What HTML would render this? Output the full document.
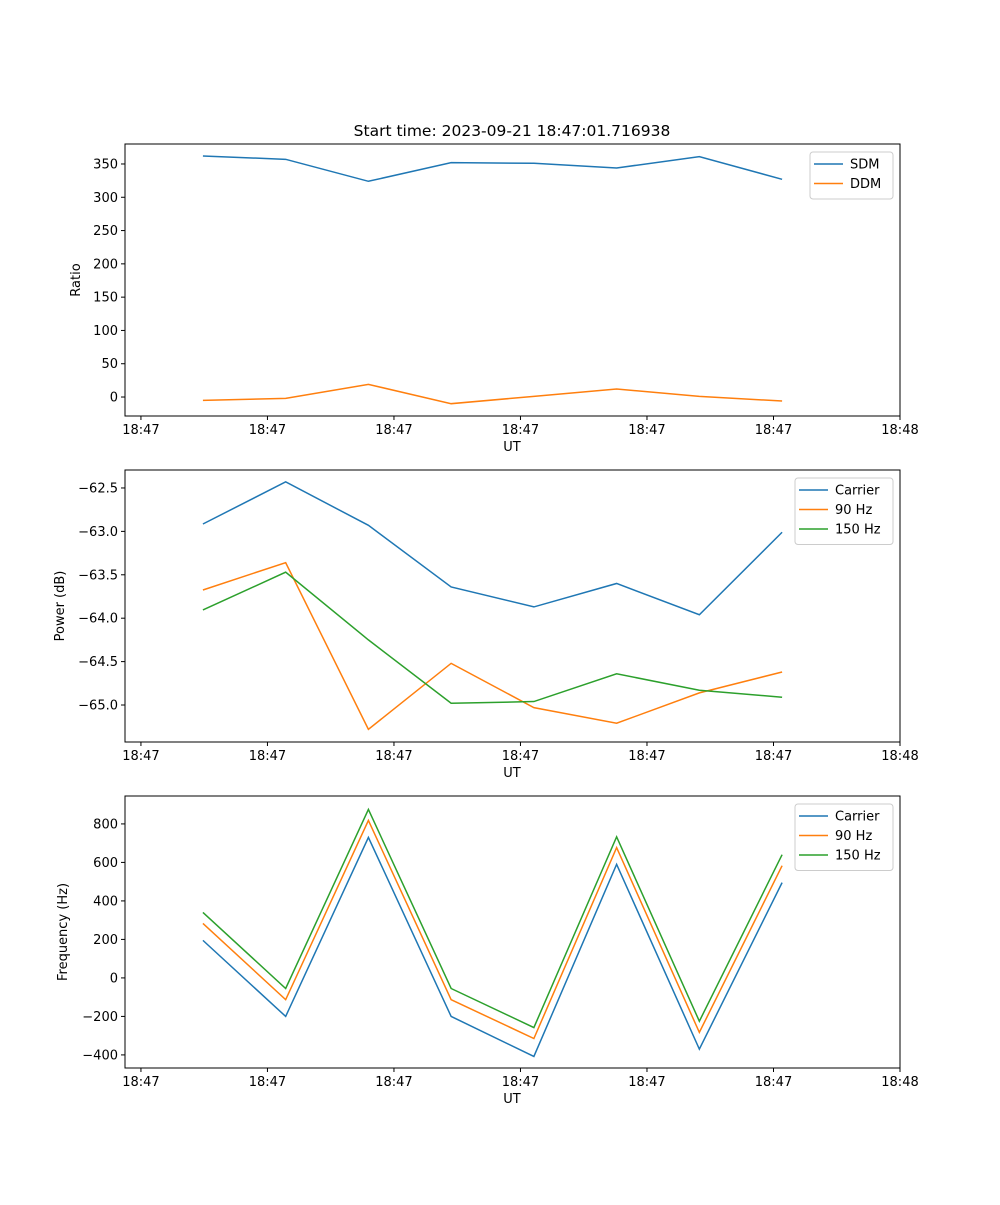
<!DOCTYPE html>
<html><head><meta charset="utf-8"><style>
html,body{margin:0;padding:0;background:#fff}
svg text{font-family:"DejaVu Sans","Liberation Sans",sans-serif;font-size:13px;fill:#000}
</style></head><body>
<svg id="fig" width="1000" height="1200" xmlns="http://www.w3.org/2000/svg">
<text x="512" y="136" text-anchor="middle" style="font-size:15.5px">Start time: 2023-09-21 18:47:01.716938</text>
</svg>
<script>
const xTickLabels = ["18:47","18:47","18:47","18:47","18:47","18:47","18:48"];
const xVals = [0.49,1.144,1.798,2.452,3.106,3.76,4.414,5.068];
const sdm = [362,357,324,352,351,344,361,327];
const ddm = [-5,-2,19,-10,1,12,1,-6];
const powCarrier = [-62.915,-62.43,-62.93,-63.64,-63.87,-63.60,-63.96,-63.01];
const pow90 = [-63.675,-63.36,-65.28,-64.52,-65.03,-65.21,-64.86,-64.62];
const pow150 = [-63.905,-63.47,-64.25,-64.98,-64.96,-64.64,-64.83,-64.91];
const freqCarrier = [195,-200,730,-200,-408,590,-370,495];
const freq90 = [283,-113,818,-113,-315,677,-283,583];
const freq150 = [340,-55,875,-55,-258,733,-225,640];
const ticks1 = [0,50,100,150,200,250,300,350];
const ticks1Labels = ["0","50","100","150","200","250","300","350"];
const ticks2 = [-65.0,-64.5,-64.0,-63.5,-63.0,-62.5];
const ticks2Labels = ["\u221265.0","\u221264.5","\u221264.0","\u221263.5","\u221263.0","\u221262.5"];
const ticks3 = [-400,-200,0,200,400,600,800];
const ticks3Labels = ["\u2212400","\u2212200","0","200","400","600","800"];

const NS="http://www.w3.org/2000/svg";
const svg=document.getElementById('fig');
function mk(tag,attrs,parent){const e=document.createElementNS(NS,tag);for(const k in attrs)e.setAttribute(k,attrs[k]);(parent||svg).appendChild(e);return e;}
const L=125,R=900,XMIN=-0.126,XMAX=6;
const xs=v=>L+(v-XMIN)/(XMAX-XMIN)*(R-L);

function panel(id,top,bot,ymin,ymax,ticks,tickLabels,ylabel,series,legend){
  const g=mk('g',{});
  
  
  const ys=v=>bot-(v-ymin)/(ymax-ymin)*(bot-top);
  series.forEach(s=>{
    const p=mk('polyline',{points:s.data.map((v,i)=>xs(xVals[i])+','+ys(v)).join(' '),fill:'none',stroke:s.color,'stroke-width':1.5},g);
    
    
  });
  const frame=mk('rect',{x:L,y:top,width:R-L,height:bot-top,fill:'none',stroke:'#000','stroke-width':1},g);
  
  
  xTickLabels.forEach((t,i)=>{
    const x=xs(i);
    mk('line',{x1:x,x2:x,y1:bot,y2:bot+4,stroke:'#000'},g);
    const tx=mk('text',{x:x,y:bot+18,'text-anchor':'middle'},g);tx.textContent=t;
    
    
  });
  ticks.forEach((v,i)=>{
    const y=ys(v);
    mk('line',{x1:L-4,x2:L,y1:y,y2:y,stroke:'#000'},g);
    const tx=mk('text',{x:L-7,y:y+4.5,'text-anchor':'end'},g);tx.textContent=tickLabels[i];
    
    
  });
  const xl=mk('text',{x:512,y:bot+35,'text-anchor':'middle'},g);xl.textContent='UT';
  
  
  const cy=(top+bot)/2;
  const yl=mk('text',{x:0,y:0,'text-anchor':'middle',transform:'translate('+legend.ylx+','+cy+') rotate(-90)'},g);yl.textContent=ylabel;
  
  
  const lg=mk('g',{},g);
  
  
  const h=series.length*19.5+8;
  mk('rect',{x:legend.x,y:top+8,width:893-legend.x,height:h,rx:3,fill:'#fff','fill-opacity':0.8,stroke:'#ccc'},lg);
  series.forEach((s,i)=>{
    const y=top+20+i*19.5;
    mk('line',{x1:legend.x+4,x2:legend.x+33,y1:y,y2:y,stroke:s.color,'stroke-width':1.5},lg);
    const tx=mk('text',{x:legend.x+40,y:y+4.5},lg);tx.textContent=s.label;
    
    
  });
}
const B='#1f77b4',O='#ff7f0e',G='#2ca02c';
panel('ratio',144,416,-28.5,380,ticks1,ticks1Labels,'Ratio',
  [{key:'sdm',label:'SDM',data:sdm,color:B},{key:'ddm',label:'DDM',data:ddm,color:O}],{x:810,ylx:80});
panel('power',470,742,-65.426,-62.293,ticks2,ticks2Labels,'Power (dB)',
  [{key:'carrier',label:'Carrier',data:powCarrier,color:B},{key:'90hz',label:'90 Hz',data:pow90,color:O},{key:'150hz',label:'150 Hz',data:pow150,color:G}],{x:795,ylx:64});
panel('frequency',796,1068,-468,945,ticks3,ticks3Labels,'Frequency (Hz)',
  [{key:'carrier',label:'Carrier',data:freqCarrier,color:B},{key:'90hz',label:'90 Hz',data:freq90,color:O},{key:'150hz',label:'150 Hz',data:freq150,color:G}],{x:795,ylx:67});
</script>
</body></html>
